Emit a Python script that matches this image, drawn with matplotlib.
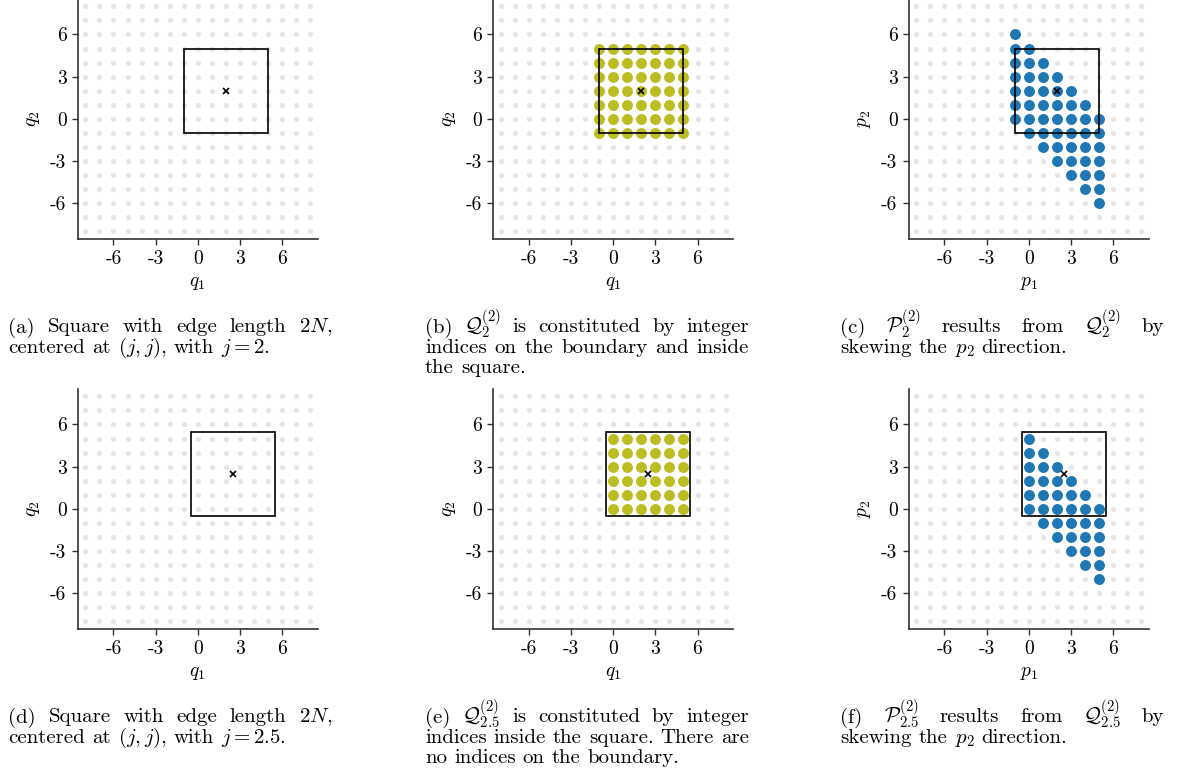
import numpy as np
import matplotlib
matplotlib.use("Agg")
import matplotlib.pyplot as plt
from matplotlib.patches import Rectangle

plt.rcParams["font.family"] = "serif"
plt.rcParams["font.serif"] = ["cmr10"]
plt.rcParams["mathtext.fontset"] = "cm"
plt.rcParams["axes.unicode_minus"] = False
plt.rcParams["axes.formatter.use_mathtext"] = False

# integer lattice shown in grey
grid = np.arange(-8, 9)
ticks = [-6, -3, 0, 3, 6]

# square centres (j) and half edge length N
centers = [2, 2.5]
half_edge = 3

# integer indices in the square, per centre
q_vals = {2: [-1, 0, 1, 2, 3, 4, 5],
          2.5: [0, 1, 2, 3, 4, 5]}

# skewed set: one column per p1 with p2 from bottom to top
p1_cols = {2: [-1, 0, 1, 2, 3, 4, 5],
           2.5: [0, 1, 2, 3, 4, 5]}
p2_top = {2: [6, 5, 4, 3, 2, 1, 0],
          2.5: [5, 4, 3, 2, 1, 0]}
p2_bot = {2: [0, -1, -2, -3, -4, -5, -6],
          2.5: [0, -1, -2, -3, -4, -5]}

captions = {
    (0, 0): ["(a) Square with edge length $2N$,",
             "centered at $(j,j)$, with $j=2$."],
    (0, 1): [r"(b) $\mathcal{Q}_2^{(2)}$ is constituted by integer",
             "indices on the boundary and inside",
             "the square."],
    (0, 2): [r"(c) $\mathcal{P}_2^{(2)}$ results from $\mathcal{Q}_2^{(2)}$ by",
             "skewing the $p_2$ direction."],
    (1, 0): ["(d) Square with edge length $2N$,",
             "centered at $(j,j)$, with $j=2.5$."],
    (1, 1): [r"(e) $\mathcal{Q}_{2.5}^{(2)}$ is constituted by integer",
             "indices inside the square. There are",
             "no indices on the boundary."],
    (1, 2): [r"(f) $\mathcal{P}_{2.5}^{(2)}$ results from $\mathcal{Q}_{2.5}^{(2)}$ by",
             "skewing the $p_2$ direction."],
}

W, H = 1178, 776
fig = plt.figure(figsize=(W / 100, H / 100), dpi=100)
renderer = fig.canvas.get_renderer()

ax_left = [77.7, 493.3, 908.7]
ax_top = [-1.3, 388.7]
ax_size = 240.0
cap_left = [8.5, 425, 840.5]
cap_width = 324
cap_base = [332.5, 722.5]
line_gap = 20.3
fs_cap = 15
fs_tick = 14

olive = "#bcbd22"
blue = "#1f77b4"
spine_col = "#333333"


def justify(lines, x0, y0):
    # place words so that each full line spans cap_width (LaTeX style)
    for i, line in enumerate(lines):
        words = line.split(" ")
        y = (H - (y0 + i * line_gap)) / H
        texts, widths = [], []
        for w in words:
            t = fig.text(0, y, w, fontsize=fs_cap, va="baseline", ha="left")
            widths.append(t.get_window_extent(renderer).width)
            texts.append(t)
        if i < len(lines) - 1 and len(words) > 1:
            gap = (cap_width - sum(widths)) / (len(words) - 1)
        else:
            gap = fs_cap * 1.389 * 0.333
        x = x0
        for t, wd in zip(texts, widths):
            t.set_x(x / W)
            x += wd + gap


for r, j in enumerate(centers):
    for c in range(3):
        ax = fig.add_axes([ax_left[c] / W, 1 - (ax_top[r] + ax_size) / H,
                           ax_size / W, ax_size / H])
        gx, gy = np.meshgrid(grid, grid)
        ax.scatter(gx.ravel(), gy.ravel(), s=14, color="#e5e5e5",
                   linewidths=0, zorder=1)
        if c == 1:
            qx, qy = np.meshgrid(q_vals[j], q_vals[j])
            ax.scatter(qx.ravel(), qy.ravel(), s=62, color=olive,
                       linewidths=0, zorder=2)
        if c == 2:
            px, py = [], []
            for p1, lo, hi in zip(p1_cols[j], p2_bot[j], p2_top[j]):
                for p2 in range(lo, hi + 1):
                    px.append(p1)
                    py.append(p2)
            ax.scatter(px, py, s=62, color=blue, linewidths=0, zorder=2)
        ax.add_patch(Rectangle((j - half_edge, j - half_edge), 2 * half_edge,
                               2 * half_edge, fill=False, ec="black",
                               lw=1.2, zorder=3))
        ax.plot([j], [j], marker="x", color="black", ms=4.5, mew=1.2,
                zorder=4)
        ax.set_xlim(-8.55, 8.55)
        ax.set_ylim(-8.55, 8.55)
        ax.set_xticks(ticks)
        ax.set_yticks(ticks)
        ax.tick_params(labelsize=fs_tick, color=spine_col, width=1.0,
                       length=4, pad=4)
        for s in ["top", "right"]:
            ax.spines[s].set_visible(False)
        for s in ["left", "bottom"]:
            ax.spines[s].set_color(spine_col)
            ax.spines[s].set_linewidth(1.2)
        name = "p" if c == 2 else "q"
        ax.set_xlabel(f"${name}_1$", fontsize=fs_tick, va="center")
        ax.set_ylabel(f"${name}_2$", fontsize=fs_tick, va="center")
        ax.xaxis.set_label_coords(0.5, -44.5 / ax_size)
        ax.yaxis.set_label_coords(-44.5 / ax_size, 0.5)
        justify(captions[(r, c)], cap_left[c], cap_base[r])

fig.savefig("out.png", dpi=100)
